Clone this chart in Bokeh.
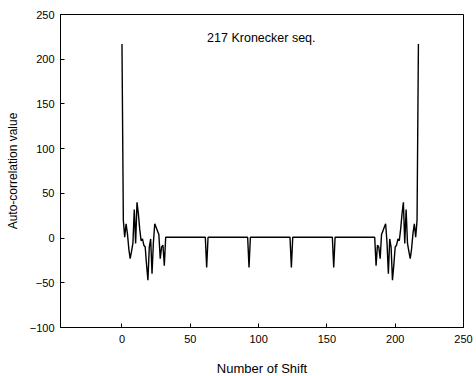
from bokeh.plotting import figure
from bokeh.models import Range1d, FixedTicker, ColumnDataSource
from bokeh.core.properties import value
from bokeh.embed import file_html
from bokeh.resources import INLINE

title_text = "217 Kronecker seq."
x_label = "Number of Shift"
y_label = "Auto-correlation value"
x_ticks = [0, 50, 100, 150, 200, 250]
y_ticks = [-100, -50, 0, 50, 100, 150, 200, 250]

shift = list(range(218))
autocorr = [
    217, 20, 1, 16, 5, -12, -23, -15, -6, 32, -6, 40, 27, 10, -3, -1,
    -8, -10, -30, -47, -10, -1, -40, -5, 16, 12, 8, 4, -23, -10, -8, -31,
    1, 1, 1, 1, 1, 1, 1, 1, 1, 1, 1, 1, 1, 1, 1, 1,
    1, 1, 1, 1, 1, 1, 1, 1, 1, 1, 1, 1, 1, 1, -33, 1,
    1, 1, 1, 1, 1, 1, 1, 1, 1, 1, 1, 1, 1, 1, 1, 1,
    1, 1, 1, 1, 1, 1, 1, 1, 1, 1, 1, 1, 1, -33, 1, 1,
    1, 1, 1, 1, 1, 1, 1, 1, 1, 1, 1, 1, 1, 1, 1, 1,
    1, 1, 1, 1, 1, 1, 1, 1, 1, 1, 1, 1, -33, 1, 1, 1,
    1, 1, 1, 1, 1, 1, 1, 1, 1, 1, 1, 1, 1, 1, 1, 1,
    1, 1, 1, 1, 1, 1, 1, 1, 1, 1, 1, -33, 1, 1, 1, 1,
    1, 1, 1, 1, 1, 1, 1, 1, 1, 1, 1, 1, 1, 1, 1, 1,
    1, 1, 1, 1, 1, 1, 1, 1, 1, 1, -31, -8, -10, -23, 4, 8,
    12, 16, -5, -40, -1, -10, -47, -30, -10, -8, -1, -3, 10, 27, 40, -6,
    32, -6, -15, -23, -12, 5, 16, 1, 20, 217,
]

FONT = "Liberation Sans"

p = figure(
    width=476, height=376,
    frame_width=403, frame_height=313,
    min_border_left=60, min_border_right=13, min_border_top=14, min_border_bottom=49,
    x_range=Range1d(-45, 250), y_range=Range1d(-100, 250),
    output_backend="svg", toolbar_location=None,
)
p.outline_line_color = "black"
p.outline_line_width = 1
p.xgrid.visible = False
p.ygrid.visible = False
p.background_fill_color = "white"
p.border_fill_color = "white"

src = ColumnDataSource(dict(x=shift, y=autocorr))
p.line("x", "y", source=src, line_color="black", line_width=1.4)

p.text(x=[102], y=[224], text=[title_text], text_font=value(FONT),
       text_font_size="12.5px", text_align="center", text_baseline="middle",
       text_color="black")

for ax in (p.xaxis[0], p.yaxis[0]):
    ax.major_tick_in = 4
    ax.major_tick_out = 0
    ax.minor_tick_line_color = None
    ax.axis_line_color = "black"
    ax.major_label_text_font = FONT
    ax.major_label_text_font_size = "11px"
    ax.major_label_text_color = "black"
    ax.axis_label_text_font = FONT
    ax.axis_label_text_font_style = "normal"
    ax.axis_label_text_color = "black"

p.xaxis.axis_label_text_font_size = "13px"
p.yaxis.axis_label_text_font_size = "12px"
p.xaxis.ticker = FixedTicker(ticks=x_ticks)
p.yaxis.ticker = FixedTicker(ticks=y_ticks)
p.xaxis.axis_label = x_label
p.yaxis.axis_label = y_label
p.xaxis.major_label_standoff = 7
p.yaxis.major_label_standoff = 6
p.xaxis.axis_label_standoff = 15
p.yaxis.axis_label_standoff = 7

open("out.html", "w").write(file_html(p, INLINE))
